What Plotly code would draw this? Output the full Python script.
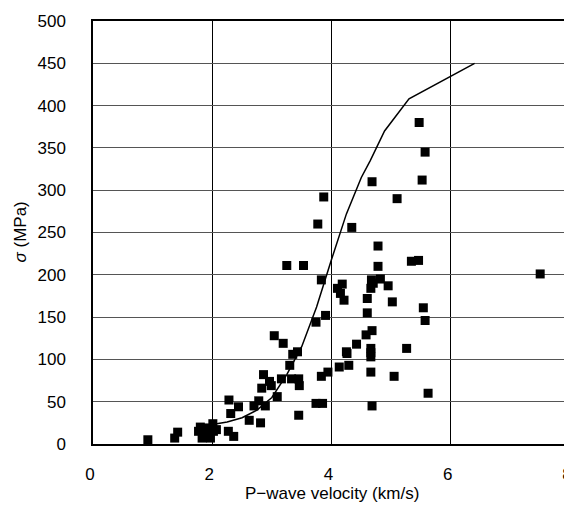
import plotly.graph_objects as go

vp = [0.92, 1.37, 1.42, 1.77, 1.80, 1.83, 1.85, 1.88, 1.91, 1.97, 2.01, 2.02, 2.07, 1.95,
      2.27, 2.36, 2.28, 2.31, 2.44, 2.62, 2.81, 2.70, 2.78, 2.89, 3.09, 2.83, 2.86, 2.96,
      2.99, 3.16, 3.33, 3.45, 3.46, 3.45, 3.30, 3.35, 3.43, 3.04, 3.19, 3.25, 3.53, 3.83,
      3.74, 3.90, 3.83, 3.94, 3.74, 3.85, 3.77, 3.87, 4.34, 4.68, 5.10, 5.52, 5.57, 5.47,
      4.78, 4.78, 5.34, 5.46, 7.50, 4.67, 4.82, 4.70, 4.95, 4.66, 4.10, 4.18, 4.15, 4.21,
      4.60, 5.02, 4.60, 5.54, 5.57, 4.68, 4.58, 4.42, 4.25, 4.26, 4.66, 4.66, 4.66, 5.26,
      4.13, 4.29, 4.66, 5.05, 5.62, 4.68]
sigma = [5, 7, 14, 15, 20, 7, 13, 9, 19, 7, 24, 15, 17, 12,
         15, 9, 52, 36, 44, 28, 25, 45, 51, 45, 56, 66, 82, 74,
         69, 77, 77, 77, 69, 34, 93, 106, 109, 128, 119, 211, 211, 194,
         144, 152, 80, 85, 48, 48, 260, 292, 256, 310, 290, 312, 345, 380,
         234, 210, 216, 217, 201, 194, 195, 190, 187, 184, 184, 189, 178, 170,
         172, 168, 155, 161, 146, 134, 129, 118, 109, 107, 113, 108, 103, 113,
         91, 93, 85, 80, 60, 45]

curve_v = [2.0, 2.25, 2.5, 2.75, 3.0, 3.25, 3.5, 3.75, 4.0, 4.25, 4.5, 4.65, 4.89, 5.3, 6.4]
curve_s = [23, 26, 31, 40, 55, 82, 115, 162, 218, 272, 315, 335, 370, 408, 450]

x_title = "P\u2212wave velocity (km/s)"
y_title = "<i>\u03c3</i> (MPa)"

fig = go.Figure()
fig.add_trace(go.Scatter(x=curve_v, y=curve_s, mode="lines",
                         line=dict(color="black", width=1.5), showlegend=False))
fig.add_trace(go.Scatter(x=vp, y=sigma, mode="markers",
                         marker=dict(symbol="square", size=9, color="black"),
                         showlegend=False))

font = "Liberation Sans, Arial, sans-serif"
W, H = 572, 499
L, R, T, B = 85, 10, 13, 63
pw = W - L - R
ph = H - T - B
fig.update_layout(
    width=W, height=H,
    margin=dict(l=L, r=R, t=T, b=B, autoexpand=False),
    paper_bgcolor="white", plot_bgcolor="white",
    font=dict(family=font, size=17, color="black"),
    xaxis=dict(range=[0, 8], dtick=2, showgrid=True, gridcolor="black", gridwidth=1,
               showline=True, linecolor="black", linewidth=1.5, mirror=True,
               zeroline=False, ticks="", ticklabelstandoff=14, ticklabelshift=-3,
               automargin=False),
    yaxis=dict(range=[0, 500], dtick=50, showgrid=True, gridcolor="#555", gridwidth=1,
               showline=True, linecolor="black", linewidth=1.5, mirror=True,
               zeroline=False, ticks="", ticklabelstandoff=22, automargin=False),
    annotations=[
        dict(text=x_title, xref="paper", yref="paper", x=0.5, y=-49 / ph,
             xanchor="center", yanchor="middle", showarrow=False,
             font=dict(size=17)),
        dict(text=y_title, xref="paper", yref="paper", x=(12 - L) / pw, y=0.5,
             xanchor="center", yanchor="middle", showarrow=False, textangle=-90,
             font=dict(size=17)),
    ],
)
fig.write_html("out.html")
